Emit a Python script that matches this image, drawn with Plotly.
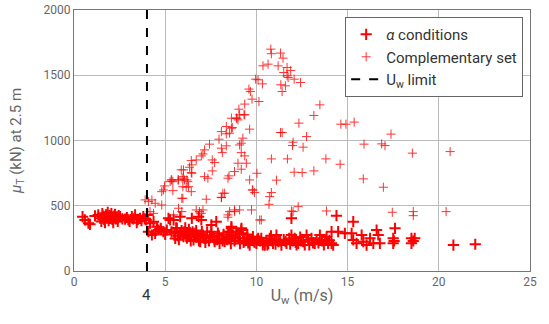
import plotly.graph_objects as go

# alpha conditions (thick markers): wind speed U_w (m/s) and mu_T (kN)
alpha_u = [0.47, 0.6, 0.79, 0.88, 1.15, 1.33, 1.45, 1.5, 1.55, 1.6, 1.65, 1.7, 1.75, 1.8, 1.85, 1.9, 1.95, 2.0,
           2.05, 2.1, 2.15, 2.2, 2.25, 2.3, 2.35, 2.4, 2.45, 2.53, 2.65, 2.8, 2.9, 2.98, 3.05, 3.17, 3.25, 3.35,
           3.44, 3.5, 3.62, 3.7, 3.8, 3.88, 3.96, 4.02,
           4.08, 4.17, 4.27, 4.36, 4.45, 4.55, 4.63, 4.76, 4.9, 5.0, 5.09, 5.18, 5.27, 5.35, 5.46, 5.5, 5.6, 5.64,
           5.7, 5.82, 5.82, 5.9, 6.0, 6.05, 6.1, 6.19, 6.25, 6.3, 6.37, 6.46, 6.5, 6.55, 6.6, 6.7, 6.74, 6.83,
           6.85, 6.92, 6.98, 7.01, 7.07, 7.15, 7.25, 7.3, 7.4, 7.53, 7.53, 7.6, 7.71, 7.8, 7.85, 7.89, 7.98, 8.1,
           8.2, 8.26, 8.35, 8.45, 8.53, 8.53, 8.63, 8.63, 8.71, 8.8, 8.9, 9.0, 9.1, 9.17, 9.18, 9.26, 9.35, 9.45,
           9.5, 9.55, 9.63, 9.7, 9.81, 9.9, 10.0, 10.1, 10.2, 10.27, 10.35, 10.46, 10.55, 10.65, 10.73, 10.8,
           10.91, 11.0, 11.1, 11.2, 11.37, 11.5, 11.65, 11.8, 11.92, 11.92, 12.0, 12.1, 12.2, 12.29, 12.4, 12.56,
           12.65, 12.75, 12.85, 13.02, 13.1, 13.2, 13.3, 13.48, 13.6, 13.75, 13.85, 13.93, 14.12, 14.12, 14.21,
           14.39, 14.48, 14.85, 15.22, 15.31, 15.31, 15.49, 15.77, 15.86, 16.04, 16.23, 16.41, 16.59, 16.68,
           16.77, 17.5, 17.5, 17.6, 17.55, 18.5, 18.68, 18.5, 18.6, 20.8, 22.0,
           5.55, 5.75, 6.15, 6.4, 6.65, 6.9, 7.2, 7.45, 7.7, 7.95, 8.15, 8.4, 8.6, 8.85, 9.05, 9.3, 9.6, 9.85,
           10.05, 10.4, 10.6, 10.85, 11.05, 11.3, 11.6, 11.85, 12.15, 12.45, 12.9, 13.4, 13.7, 14.0]
alpha_mu = [416, 391, 366, 358, 422, 430, 405, 380, 440, 420, 395, 370, 430, 410, 450, 385, 425, 405,
            440, 395, 370, 420, 435, 400, 415, 380, 425, 416, 400, 397, 410, 391, 380, 416, 400, 430,
            370, 395, 404, 385, 416, 400, 391, 430,
            301, 366, 276, 378, 289, 340, 314, 327, 301, 280, 314, 404, 391, 300, 391, 290, 330, 327,
            270, 289, 416, 310, 263, 300, 330, 251, 290, 320, 276, 404, 300, 238, 270, 310, 263, 416,
            230, 225, 391, 301, 276, 250, 251, 300, 230, 353, 301, 260, 225, 378, 240, 290, 212, 250,
            280, 225, 260, 300, 251, 301, 327, 340, 276, 230, 301, 250, 210, 314, 327, 289, 230, 251,
            280, 215, 199, 240, 263, 220, 212, 250, 230, 251, 200, 199, 230, 210, 251, 270,
            212, 240, 276, 225, 199, 240, 212, 250, 276, 404, 230, 251, 200, 212, 260, 225,
            200, 276, 240, 251, 215, 212, 240, 276, 230, 238, 260, 212, 301, 212, 199,
            424, 301, 289, 289, 378, 238, 212, 276, 225, 199, 251, 212, 314, 276,
            212, 251, 212, 327, 230, 251, 251, 212, 230, 199, 205,
            250, 240, 280, 230, 290, 250, 220, 270, 240, 270, 230, 240, 210, 260, 280, 220, 240, 230,
            240, 220, 200, 230, 205, 230, 225, 205, 220, 230, 200, 215, 200, 235]

# complementary set (thin markers)
comp_u = [3.9, 4.08, 4.27, 4.45, 4.17, 4.36, 4.81, 4.81, 4.9, 4.96, 5.27, 5.36, 5.73, 6.0, 6.19, 6.28, 5.91,
          5.73, 5.91, 5.46, 6.46, 6.0, 5.33, 5.42, 5.7, 5.93, 6.06, 6.24, 5.97, 6.15, 5.42, 6.43, 5.97, 5.88,
          6.43, 6.33, 6.46, 6.43, 6.7, 6.98, 7.07, 7.16, 7.43, 7.95, 8.08, 8.35, 8.63, 8.35, 8.53, 8.99, 9.08,
          9.36, 9.63, 9.26, 9.17, 8.35, 8.08, 8.13, 7.58, 7.71, 7.58, 7.16, 7.34, 7.25, 8.08, 8.26, 8.99, 8.8,
          8.5, 8.44, 9.17, 9.45, 9.63, 10.03, 9.78, 9.9, 9.36, 9.17, 9.08,
          10.79, 10.82, 11.32, 11.46, 10.36, 10.64, 11.19, 11.68, 11.88, 11.5, 11.68, 11.74, 12.07, 12.42,
          9.96, 10.09, 10.33, 11.34, 11.59, 11.41, 9.59, 9.67, 9.76, 10.14, 9.36, 9.04, 9.32, 13.48, 13.15,
          8.9, 8.63, 8.93, 8.68,
          12.33, 11.32, 11.41, 12.75, 14.63, 14.91, 15.36, 12.01, 11.98, 12.56, 17.38, 15.9, 16.87, 17.05,
          10.82, 11.7, 13.81, 18.55, 20.62, 14.59, 12.07, 12.51, 13.15, 11.1, 15.86, 16.96, 10.82,
          6.7, 6.88, 8.53, 8.8, 10.27, 12.01, 12.29,
          8.16, 8.08, 9.81, 10.73, 10.69, 8.44, 8.44, 8.81, 9.08, 9.73, 10.18, 11.92, 13.84, 7.07, 6.98,
          17.45, 18.6, 18.6, 20.4]
comp_mu = [545, 532, 545, 519, 455, 442, 506, 608, 621, 652, 685, 698, 698, 723, 698, 646, 557,
           481, 455, 430, 749, 775, 698, 685, 698, 711, 698, 685, 646, 642, 616, 608, 557, 775,
           754, 795, 813, 846, 851, 882, 897, 928, 972, 1010, 1068, 1107, 1094, 1051, 1056, 1158, 1197,
           1197, 1087, 1018, 979, 959, 941, 907, 851, 831, 767, 723, 711, 550, 565, 596, 826, 762,
           729, 711, 780, 826, 698, 749, 621, 601, 882, 907, 966,
           1700, 1665, 1670, 1631, 1572, 1585, 1572, 1559, 1536, 1521, 1496, 1483, 1470, 1444,
           1470, 1465, 1434, 1427, 1419, 1375, 1394, 1375, 1317, 1299, 1279, 1240, 1197, 1273, 1192,
           1171, 1171, 1171, 1099,
           1133, 1061, 1061, 1030, 1125, 1125, 1141, 987, 961, 949, 1049, 972, 974, 961,
           859, 859, 859, 903, 915, 818, 757, 754, 767, 696, 706, 642, 601,
           468, 455, 455, 468, 391, 455, 493,
           596, 562, 621, 570, 511, 430, 412, 455, 468, 468, 391, 460, 460, 468, 442,
           450, 455, 424, 455]

u_limit = 4
x_ticks = [0, 5, 10, 15, 20, 25]
y_ticks = [0, 500, 1000, 1500, 2000]

FONT = "Roboto"
GREY = "#666666"

fig = go.Figure()
fig.add_trace(go.Scatter(
    x=alpha_u, y=alpha_mu, mode="markers", name="<i>α</i> conditions",
    marker=dict(symbol="cross-thin", size=8, color="red", line=dict(color="red", width=2)),
))
fig.add_trace(go.Scatter(
    x=comp_u, y=comp_mu, mode="markers", name="Complementary set",
    marker=dict(symbol="cross-thin", size=6.5, color="red", opacity=0.8,
                line=dict(color="red", width=1)),
))
fig.add_trace(go.Scatter(
    x=[u_limit, u_limit], y=[0, 2000], mode="lines", name="U<sub>w</sub> limit",
    line=dict(color="black", width=2, dash="dash"),
))

fig.add_annotation(x=u_limit, y=-0.092, xref="x", yref="paper", text="4", showarrow=False,
                   font=dict(family=FONT, size=15, color="#333333"), yanchor="middle")

fig.update_layout(
    width=549, height=324,
    margin=dict(l=74, r=19, t=10, b=53),
    paper_bgcolor="white", plot_bgcolor="white",
    font=dict(family=FONT, color=GREY, size=12),
    showlegend=True,
    legend=dict(x=0.985, y=0.973, xanchor="right", yanchor="top",
                bgcolor="white", bordercolor="#666666", borderwidth=1,
                font=dict(family=FONT, size=15, color="#333333"),
                tracegroupgap=0, itemwidth=30),
)
fig.update_xaxes(range=[0, 25], tickvals=x_ticks, showgrid=True, gridcolor="#bbbbbb", gridwidth=1,
                 showline=True, linecolor="#777777", mirror=True, zeroline=False, ticks="",
                 automargin=False,
                 tickfont=dict(family=FONT, size=12, color=GREY),
                 title=dict(text="U<sub>w</sub> (m/s)", font=dict(family=FONT, size=16, color=GREY),
                            standoff=1))
fig.update_yaxes(range=[0, 2000], tickvals=y_ticks, showgrid=True, gridcolor="#bbbbbb", gridwidth=1,
                 showline=True, linecolor="#777777", mirror=True, zeroline=False, ticks="",
                 automargin=False,
                 tickfont=dict(family=FONT, size=12, color=GREY),
                 title=dict(text="<i>μ</i><sub>T</sub> (kN) at 2.5 m",
                            font=dict(family=FONT, size=15, color=GREY), standoff=18))

fig.write_html("out.html", config={"displayModeBar": False},
               post_script="document.body.style.margin='0';")
